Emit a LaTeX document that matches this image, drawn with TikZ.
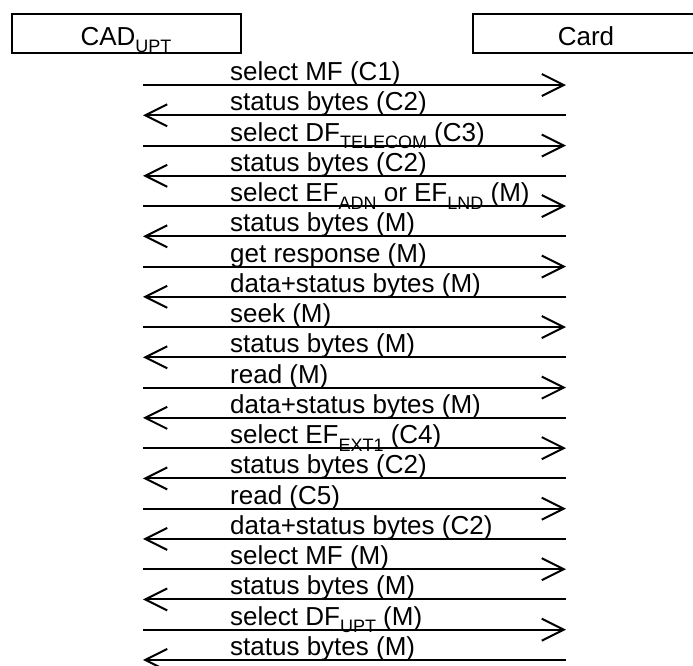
\documentclass[tikz,border=0pt]{standalone}
\usepackage{fontspec}
\setmainfont{Liberation Sans}
\usetikzlibrary{arrows.meta}
\newcommand{\subtxt}[1]{\raisebox{-7.5pt}{\fontsize{18}{18}\selectfont #1}}
\tikzset{
  lbl/.style={anchor=base west, inner sep=0pt, font=\fontsize{26}{30}\selectfont},
  box/.style={draw, line width=2pt},
  msg/.style={line width=2pt, -{Straight Barb[length=22pt, width=22pt, line width=2pt]}},
}
\begin{document}
\begin{tikzpicture}[x=1pt, y=-1pt]
\useasboundingbox (0,0) rectangle (693,665);
% boxes
\draw[box] (11.7,14.3) rectangle (241,52.7);
\draw[box] (473,14.3) rectangle (700,52.7);
\node[lbl, anchor=base] (cad) at (126,45) {CAD\subtxt{UPT}};
\node[lbl, anchor=base] (card) at (586,45) {Card};
% endpoints
\foreach \i in {1,...,20} {
  \coordinate (L\i) at (143, {85+30.26*(\i-1)});
  \coordinate (R\i) at (566, {85+30.26*(\i-1)});
  \coordinate (T\i) at (230, {85+30.26*(\i-1)-4.5});
}
\node[lbl] (m1) at (T1) {select MF (C1)};
\node[lbl] (m2) at (T2) {status bytes (C2)};
\node[lbl] (m3) at (T3) {select DF\subtxt{TELECOM} (C3)};
\node[lbl] (m4) at (T4) {status bytes (C2)};
\node[lbl] (m5) at (T5) {select EF\subtxt{ADN} or EF\subtxt{LND} (M)};
\node[lbl] (m6) at (T6) {status bytes (M)};
\node[lbl] (m7) at (T7) {get response (M)};
\node[lbl] (m8) at (T8) {data+status bytes (M)};
\node[lbl] (m9) at (T9) {seek (M)};
\node[lbl] (m10) at (T10) {status bytes (M)};
\node[lbl] (m11) at (T11) {read (M)};
\node[lbl] (m12) at (T12) {data+status bytes (M)};
\node[lbl] (m13) at (T13) {select EF\subtxt{EXT1} (C4)};
\node[lbl] (m14) at (T14) {status bytes (C2)};
\node[lbl] (m15) at (T15) {read (C5)};
\node[lbl] (m16) at (T16) {data+status bytes (C2)};
\node[lbl] (m17) at (T17) {select MF (M)};
\node[lbl] (m18) at (T18) {status bytes (M)};
\node[lbl] (m19) at (T19) {select DF\subtxt{UPT} (M)};
\node[lbl] (m20) at (T20) {status bytes (M)};
% arrows
\foreach \i in {1,3,...,19} { \draw[msg] (L\i) -- (R\i); }
\foreach \i in {2,4,...,20} { \draw[msg] (R\i) -- (L\i); }
\end{tikzpicture}
\end{document}
